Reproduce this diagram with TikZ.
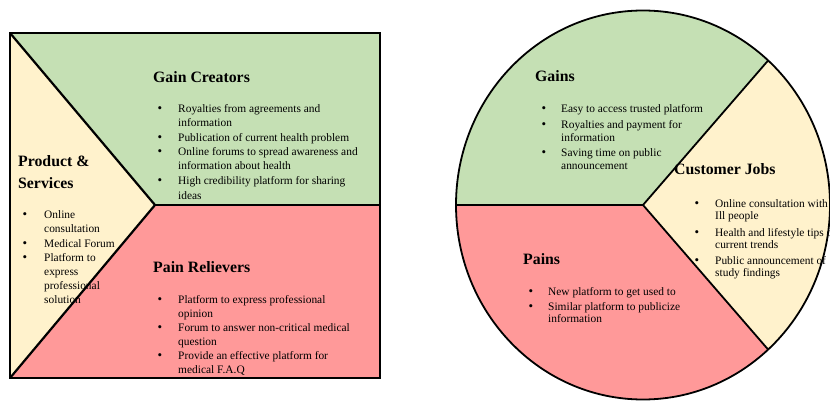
\documentclass[tikz,border=0pt]{standalone}
\usepackage{fontspec}
\setmainfont{Liberation Serif}
\usetikzlibrary{calc}
\definecolor{gainc}{HTML}{C5E0B4}
\definecolor{painc}{HTML}{FF9999}
\definecolor{jobc}{HTML}{FFF2CC}
\newcommand{\mylines}[1]{\begin{tabular}[t]{@{}l@{}}#1\end{tabular}}
\begin{document}
\begin{tikzpicture}[x=1pt,y=1pt,
  sq/.style={line width=2.2pt, line join=miter},
  el/.style={line width=1.8pt},
  head/.style={font=\fontsize{15.8}{21}\selectfont\bfseries, inner sep=0pt, anchor=base west},
  sqtxt/.style={font=\fontsize{11.4}{14}\selectfont, inner sep=0pt, anchor=base west},
  eltxt/.style={font=\fontsize{11.4}{12.5}\selectfont, inner sep=0pt, anchor=base west},
  bul/.style={font=\fontsize{13}{14}\selectfont, inner sep=0pt, anchor=base}]
\useasboundingbox (0,0) rectangle (830,-401);
\clip (0,0) rectangle (830,-401);

% ---------- left square ----------
\coordinate (tl) at (10,-33);
\coordinate (tr) at (380,-33);
\coordinate (br) at (380,-378);
\coordinate (bl) at (10,-378);
\coordinate (apex) at (155,-205);
\coordinate (mr) at (380,-205);
\fill[gainc] (tl) -- (tr) -- (mr) -- (apex) -- cycle;
\fill[painc] (apex) -- (mr) -- (br) -- (bl) -- cycle;
\fill[jobc] (tl) -- (apex) -- (bl) -- cycle;
\draw[sq] (tl) -- (apex) -- (bl);
\draw[sq] (apex) -- (mr);
\draw[sq] (tl) rectangle (br);

% Gain Creators
\node[head] (gch) at (153,-83) {Gain Creators};
\node[bul] (gcb1) at (160,-113) {\textbullet};
\node[sqtxt] (gc1) at (178,-113) {\mylines{Royalties from agreements and\\information}};
\node[bul] (gcb2) at (160,-142) {\textbullet};
\node[sqtxt] (gc2) at (178,-142) {\mylines{Publication of current health problem}};
\node[bul] (gcb3) at (160,-156) {\textbullet};
\node[sqtxt] (gc3) at (178,-156) {\mylines{Online forums to spread awareness and\\information about health}};
\node[bul] (gcb4) at (160,-185) {\textbullet};
\node[sqtxt] (gc4) at (178,-185) {\mylines{High credibility platform for sharing\\ideas}};

% Pain Relievers
\node[head] (prh) at (153,-272) {Pain Relievers};
\node[bul] (prb1) at (160,-303) {\textbullet};
\node[sqtxt] (pr1) at (178,-303) {\mylines{Platform to express professional\\opinion}};
\node[bul] (prb2) at (160,-331) {\textbullet};
\node[sqtxt] (pr2) at (178,-331) {\mylines{Forum to answer non-critical medical\\question}};
\node[bul] (prb3) at (160,-359) {\textbullet};
\node[sqtxt] (pr3) at (178,-359) {\mylines{Provide an effective platform for\\medical F.A.Q}};

% Product & Services
\node[head] (psh) at (18,-167) {\mylines{Product \&\\Services}};
\node[bul] (psb1) at (25,-218) {\textbullet};
\node[sqtxt] (ps1) at (44,-218) {\mylines{Online\\consultation}};
\node[bul] (psb2) at (25,-247) {\textbullet};
\node[sqtxt] (ps2) at (44,-247) {\mylines{Medical Forum}};
\node[bul] (psb3) at (25,-261) {\textbullet};
\node[sqtxt] (ps3) at (44,-261) {\mylines{Platform to\\express\\professional\\solution}};

% ---------- right ellipse ----------
\coordinate (c) at (643,-205);
\fill[gainc] (c) -- ++(180:187 and 194.5) arc[start angle=180, end angle=48, x radius=187, y radius=194.5] -- cycle;
\fill[jobc] (c) -- ++(48:187 and 194.5) arc[start angle=48, end angle=-48, x radius=187, y radius=194.5] -- cycle;
\fill[painc] (c) -- ++(-48:187 and 194.5) arc[start angle=-48, end angle=-180, x radius=187, y radius=194.5] -- cycle;
\coordinate (eleft) at ($(c)+(180:187 and 194.5)$);
\coordinate (eup) at ($(c)+(48:187 and 194.5)$);
\coordinate (edown) at ($(c)+(-48:187 and 194.5)$);
\draw[el] (eleft) -- (c) -- (eup);
\draw[el] (c) -- (edown);
\draw[el] (c) ellipse[x radius=187, y radius=194.5];

% Gains
\node[head] (gh) at (535,-82) {Gains};
\node[bul] (gb1) at (544,-113) {\textbullet};
\node[eltxt] (g1) at (561,-113) {\mylines{Easy to access trusted platform}};
\node[bul] (gb2) at (544,-129) {\textbullet};
\node[eltxt] (g2) at (561,-129) {\mylines{Royalties and payment for\\information}};
\node[bul] (gb3) at (544,-157) {\textbullet};
\node[eltxt] (g3) at (561,-157) {\mylines{Saving time on public\\announcement}};

% Customer Jobs
\node[head] (cjh) at (674,-175) {Customer Jobs};
\node[bul] (cjb1) at (697,-207) {\textbullet};
\node[eltxt] (cj1) at (715,-207) {\mylines{Online consultation with\\Ill people}};
\node[bul] (cjb2) at (697,-236) {\textbullet};
\node[eltxt] (cj2) at (715,-236) {\mylines{Health and lifestyle tips on\\current trends}};
\node[bul] (cjb3) at (697,-264) {\textbullet};
\node[eltxt] (cj3) at (715,-264) {\mylines{Public announcement of\\study findings}};

% Pains
\node[head] (ph) at (523,-264) {Pains};
\node[bul] (pb1) at (531,-295) {\textbullet};
\node[eltxt] (p1) at (548,-295) {\mylines{New platform to get used to}};
\node[bul] (pb2) at (531,-310) {\textbullet};
\node[eltxt] (p2) at (548,-310) {\mylines{Similar platform to publicize\\information}};
\end{tikzpicture}
\end{document}
